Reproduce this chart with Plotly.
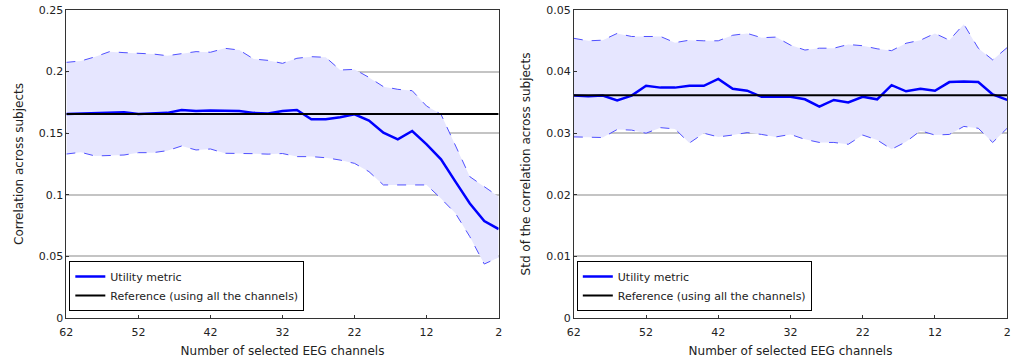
import plotly.graph_objects as go

channels = list(range(62, 0, -2))  # 62, 60, ..., 2

# Left panel: correlation across subjects
corr_mean = [0.1655, 0.166, 0.1665, 0.167, 0.167, 0.1655, 0.166, 0.1665, 0.1688, 0.168, 0.1685,
             0.1685, 0.168, 0.1665, 0.166, 0.168, 0.1688, 0.1613, 0.1613, 0.1629, 0.1653, 0.1602,
             0.1504, 0.145, 0.1518, 0.141, 0.1288, 0.1107, 0.093, 0.0787, 0.0722]
corr_upper = [0.2075, 0.2086, 0.212, 0.2162, 0.2154, 0.2148, 0.2143, 0.2129, 0.2148, 0.2162, 0.2157,
              0.2189, 0.2175, 0.2102, 0.2091, 0.2067, 0.2108, 0.2121, 0.2116, 0.2013, 0.2018, 0.1953,
              0.1878, 0.1856, 0.1845, 0.172, 0.1653, 0.1396, 0.1147, 0.1066, 0.0985]
corr_lower = [0.1331, 0.1345, 0.1315, 0.132, 0.1323, 0.1342, 0.1342, 0.1358, 0.1396, 0.1364, 0.1372,
              0.1337, 0.1337, 0.1334, 0.133, 0.1335, 0.131, 0.131, 0.1301, 0.1282, 0.1255, 0.1188,
              0.108, 0.108, 0.108, 0.108, 0.097, 0.085, 0.066, 0.0438, 0.0492]
corr_ref = 0.1655

# Right panel: std of the correlation across subjects
std_mean = [0.0361, 0.0360, 0.0361, 0.0353, 0.0361, 0.0377, 0.0374, 0.0374, 0.0377, 0.0377, 0.0388,
            0.0372, 0.0369, 0.0359, 0.0359, 0.0359, 0.0355, 0.0343, 0.0354, 0.0350, 0.0359, 0.0355,
            0.0378, 0.0368, 0.0372, 0.0369, 0.0383, 0.0384, 0.0383, 0.0363, 0.0354]
std_upper = [0.0454, 0.0450, 0.0451, 0.0462, 0.0457, 0.0457, 0.0457, 0.0447, 0.0451, 0.0450, 0.0450,
             0.0459, 0.0462, 0.0455, 0.0456, 0.0443, 0.0435, 0.0438, 0.0438, 0.0444, 0.0442, 0.0437,
             0.0434, 0.0446, 0.0451, 0.0462, 0.0451, 0.0477, 0.0438, 0.0419, 0.0439]
std_lower = [0.0294, 0.0293, 0.0293, 0.0306, 0.0305, 0.0300, 0.0309, 0.0307, 0.0284, 0.0300, 0.0294,
             0.0297, 0.0301, 0.0298, 0.0294, 0.0298, 0.0290, 0.0285, 0.0285, 0.0282, 0.0297, 0.0289,
             0.0274, 0.0286, 0.0304, 0.0297, 0.0298, 0.0311, 0.0308, 0.0285, 0.0308]
std_ref = 0.03615

x_ticks = [62, 52, 42, 32, 22, 12, 2]

FILL = "rgba(230,230,255,1)"
BAND = "rgb(80,80,255)"
BLUE = "rgb(0,0,255)"
FONT = "DejaVu Sans"

fig = go.Figure()


def add_panel(xa, ya, mean, upper, lower, ref, legend):
    fig.add_trace(go.Scatter(x=channels, y=upper, mode="lines", xaxis=xa, yaxis=ya,
                             line=dict(color=BAND, width=1, dash="dash"), showlegend=False,
                             hoverinfo="skip"))
    fig.add_trace(go.Scatter(x=channels, y=lower, mode="lines", xaxis=xa, yaxis=ya,
                             line=dict(color=BAND, width=1, dash="dash"), fill="tonexty",
                             fillcolor=FILL, showlegend=False, hoverinfo="skip"))
    fig.add_trace(go.Scatter(x=channels, y=mean, mode="lines", xaxis=xa, yaxis=ya,
                             line=dict(color=BLUE, width=2.5), name="Utility metric",
                             legend=legend))
    fig.add_trace(go.Scatter(x=[channels[0], channels[-1]], y=[ref, ref], mode="lines",
                             xaxis=xa, yaxis=ya, line=dict(color="black", width=2),
                             name="Reference (using all the channels)", legend=legend))


add_panel("x", "y", corr_mean, corr_upper, corr_lower, corr_ref, "legend")
add_panel("x2", "y2", std_mean, std_upper, std_lower, std_ref, "legend2")

axis_common = dict(showline=True, linecolor="#333", linewidth=1, mirror=True,
                   ticks="inside", ticklen=3, tickcolor="#333", zeroline=False,
                   tickfont=dict(family=FONT, size=11, color="#222"))
xcommon = dict(axis_common, range=[62, 2], tickvals=x_ticks, showgrid=False,
               ticklabelstandoff=4,
               title=dict(text="Number of selected EEG channels",
                          font=dict(family=FONT, size=12, color="#222"), standoff=8))

legend_common = dict(bgcolor="white", bordercolor="black", borderwidth=1,
                     font=dict(family=FONT, size=11, color="#222"), traceorder="normal",
                     yanchor="top", xanchor="left", itemwidth=30, tracegroupgap=0)

fig.update_layout(
    width=1024, height=358,
    margin=dict(l=0, r=0, t=10, b=40),
    paper_bgcolor="white", plot_bgcolor="white",
    font=dict(family=FONT, size=11, color="#222"),
    xaxis=dict(xcommon, domain=[60 / 1024, 497 / 1024], anchor="y"),
    xaxis2=dict(xcommon, domain=[573 / 1024, 1011 / 1024], anchor="y2"),
    yaxis=dict(axis_common, range=[0, 0.25], dtick=0.05, showgrid=True, gridcolor="#c4c4c4",
               gridwidth=1.5, anchor="x",
               title=dict(text="Correlation across subjects",
                          font=dict(family=FONT, size=12, color="#222"), standoff=12)),
    yaxis2=dict(axis_common, range=[0, 0.05], dtick=0.01, showgrid=True, gridcolor="#c4c4c4",
                gridwidth=1.5, anchor="x2",
                title=dict(text="Std of the correlation across subjects",
                           font=dict(family=FONT, size=12, color="#222"), standoff=12)),
    legend=dict(legend_common, x=63 / 1024, y=(318 - 261) / 308),
    legend2=dict(legend_common, x=576 / 1024, y=(318 - 261) / 308),
)

fig.write_html("out.html")
